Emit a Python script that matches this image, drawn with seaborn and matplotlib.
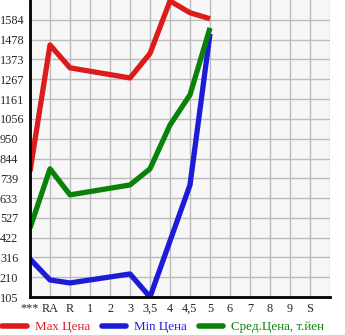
import numpy as np
import pandas as pd
import matplotlib
matplotlib.use("Agg")
import matplotlib.pyplot as plt
import seaborn as sns
from matplotlib.lines import Line2D

categories = ["***", "RA", "R", "1", "2", "3", "3,5", "4", "4,5", "5", "6", "7", "8", "9", "S"]
max_price = [775, 1450, 1328, None, None, 1274, 1405, 1685, 1622, 1590, None, None, None, None, None]
min_price = [308, 196, 180, None, None, 228, 105, 404, 703, 1510, None, None, None, None, None]
avg_price = [473, 789, 650, None, None, 703, 789, 1023, 1184, 1541, None, None, None, None, None]
y_ticks = [105, 210, 316, 422, 527, 633, 739, 844, 950, 1056, 1161, 1267, 1373, 1478, 1584]
series_names = ["Max Цена", "Min Цена", "Сред.Цена, т.йен"]
colors = ["#dc1c1c", "#1c1cd6", "#0a820a"]

rows = []
for name, vals in zip(series_names, [max_price, min_price, avg_price]):
    for i, v in enumerate(vals):
        if v is not None:
            rows.append({"x": i, "y": v, "series": name})
df = pd.DataFrame(rows)

sns.set_style("white")
plt.rcParams["font.family"] = ["Liberation Serif", "DejaVu Serif"]

W, H = 345, 335
fig = plt.figure(figsize=(W / 100, H / 100), dpi=100)
ax = fig.add_axes([30 / W, 38 / H, 300 / W, 297 / H])
ax.set_facecolor("#f7f7f7")

sns.lineplot(data=df, x="x", y="y", hue="series", palette=dict(zip(series_names, colors)),
             hue_order=series_names, ax=ax, linewidth=3.8, legend=False, sort=True,
             estimator=None)
for ln in ax.lines:
    ln.set_solid_joinstyle("round")
    ln.set_solid_capstyle("butt")

ax.set_xlim(0, 15)
ax.set_ylim(105, 1690)
ax.set_xticks(range(16))
ax.set_xticklabels(categories + [""])
ax.set_yticks(y_ticks)
ax.set_yticklabels([str(t) for t in y_ticks])
ax.grid(True, color="#bbbbbb", linewidth=1.0)
ax.set_axisbelow(True)
ax.set_xlabel("")
ax.set_ylabel("")

for s in ["top", "right"]:
    ax.spines[s].set_visible(False)
for s in ["left", "bottom"]:
    ax.spines[s].set_color("black")
    ax.spines[s].set_linewidth(2)

ax.tick_params(axis="y", direction="out", length=2.2, width=1, color="black",
               pad=19.4, labelsize=8.8)
ax.tick_params(axis="x", direction="out", length=2.2, width=1, color="black",
               pad=2, labelsize=8.8)
for lab in ax.get_yticklabels():
    lab.set_horizontalalignment("left")

handles = [Line2D([0], [0], color=c, linewidth=4, solid_capstyle="round") for c in colors]
leg = fig.legend(handles, series_names, loc="center left", bbox_to_anchor=(2 / W, 8 / H),
                 ncol=3, frameon=False, fontsize=9.4, handlelength=1.9,
                 handletextpad=0.6, columnspacing=0.9, borderaxespad=0, borderpad=0)
for t, c in zip(leg.get_texts(), colors):
    t.set_color(c)

fig.savefig("out.png", dpi=100, facecolor="white")
